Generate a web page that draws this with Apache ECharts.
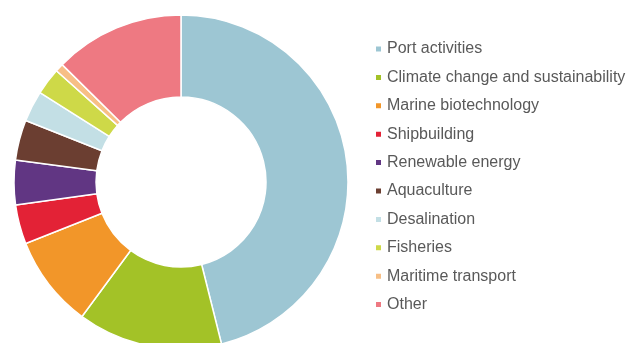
<!DOCTYPE html>
<html>
<head>
<meta charset="utf-8">
<script src="https://cdn.jsdelivr.net/npm/echarts@6/dist/echarts.min.js"></script>
<style>html,body{margin:0;padding:0;background:#fff}#c{width:628px;height:343px}</style>
</head>
<body>
<div id="c"></div>
<script>
const categories = ["Port activities","Climate change and sustainability","Marine biotechnology","Shipbuilding","Renewable energy","Aquaculture","Desalination","Fisheries","Maritime transport","Other"];
const shares = [46.1, 14.0, 8.9, 3.8, 4.3, 3.9, 3.0, 2.6, 0.8, 12.6];
const colors = ["#9DC6D3","#A3C227","#F29629","#E32236","#613683","#6B3E31","#C3DFE5","#CED948","#F7BF86","#EE7982"];

const chart = echarts.init(document.getElementById('c'), null, {renderer:'canvas'});
chart.setOption({
  animation:false,
  color: colors,
  legend:{
    orient:'vertical', left:369, top:36,
    icon:'rect', itemWidth:7, itemHeight:7, itemGap:12.4,
    textStyle:{fontFamily:"'Liberation Sans', Arial, sans-serif", fontSize:16, color:'#595959', lineHeight:16},
    data: categories
  },
  series:[{
    type:'pie',
    center:[181,182],
    radius:[85,167],
    startAngle:90,
    clockwise:true,
    label:{show:false}, labelLine:{show:false},
    emphasis:{disabled:true},
    itemStyle:{borderColor:'#fff', borderWidth:1.5},
    data: categories.map((n,i)=>({name:n, value:shares[i]}))
  }]
});
</script>
</body>
</html>
